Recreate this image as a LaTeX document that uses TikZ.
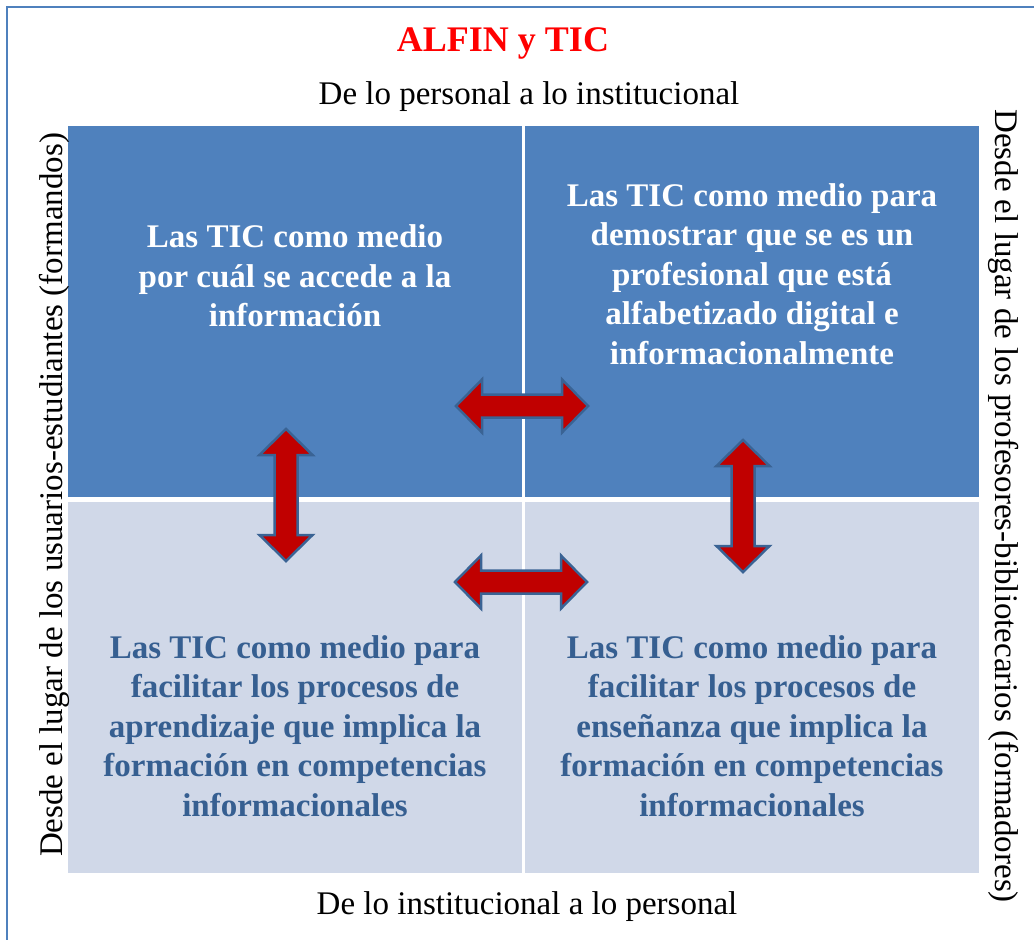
\documentclass[tikz,border=0pt]{standalone}
\usepackage{fontspec}
\setmainfont{Liberation Serif}
\usetikzlibrary{positioning}
\definecolor{quadblue}{HTML}{4F81BD}
\definecolor{quadpale}{HTML}{D0D8E8}
\definecolor{txtblue}{HTML}{365F91}
\definecolor{arrred}{HTML}{C00000}
\definecolor{arredge}{HTML}{3A6394}
\tikzset{
  quad/.style    = {minimum width=454pt, minimum height=371pt, inner sep=0pt},
  upper/.style   = {quad, fill=quadblue},
  lower/.style   = {quad, fill=quadpale},
  qtext/.style   = {align=center, inner sep=0pt,
                    font=\fontsize{33}{39.5}\selectfont\bfseries},
  side/.style    = {inner sep=0pt, font=\fontsize{33}{40}\selectfont},
  blockarr/.style= {fill=arrred, draw=arredge, line width=2.5pt, line join=miter},
  pics/dblarr/.style = {code={
    \draw[blockarr] (-66,0) -- (-40,-26.5) -- (-40,-11.5) -- (40,-11.5)
      -- (40,-26.5) -- (66,0) -- (40,26.5) -- (40,11.5) -- (-40,11.5)
      -- (-40,26.5) -- cycle;}},
}

\begin{document}
\begin{tikzpicture}[x=1pt, y=-1pt]
\useasboundingbox (0,0) rectangle (1034,940);

% --- frame ---
\draw[quadblue, line width=2pt] (7,940) -- (7,7) -- (1034,7);

% --- quadrants ---
\node[upper] (tl) at (295,311.5) {};
\node[upper] (tr) at (752,311.5) {};
\node[lower] (bl) at (295,687.5) {};
\node[lower] (br) at (752,687.5) {};

% --- headings ---
\node[text=red, font=\fontsize{36}{40}\selectfont\bfseries] (title) at (503,43) {ALFIN y TIC};
\node[side] (toplbl) at (529,97) {De lo personal a lo institucional};
\node[side] (botlbl) at (527,907) {De lo institucional a lo personal};
\node[side, rotate=90] (lside) at (54,495)
     {Desde el lugar de los usuarios-estudiantes (formandos)};
\node[side, rotate=-90] (rside) at (1004,506)
     {Desde el lugar de los profesores-bibliotecarios (formadores)};

% --- quadrant texts ---
\node[qtext, text=white] (tltext) at (295,276)
     {Las TIC como medio\\por cuál se accede a la\\información};
\node[qtext, text=white] (trtext) at (752,274)
     {Las TIC como medio para\\demostrar que se es un\\profesional que está\\alfabetizado digital e\\informacionalmente};
\node[qtext, text=txtblue] (bltext) at (295,726)
     {Las TIC como medio para\\facilitar los procesos de\\aprendizaje que implica la\\formación en competencias\\informacionales};
\node[qtext, text=txtblue] (brtext) at (752,726)
     {Las TIC como medio para\\facilitar los procesos de\\enseñanza que implica la\\formación en competencias\\informacionales};

% --- block arrows ---
\pic (arrtop) at (522,406) {dblarr};
\pic (arrbot) at (521,582) {dblarr};
\pic[rotate=90] (arrleft) at (286,495) {dblarr};
\pic[rotate=90] (arrright) at (743,506) {dblarr};
\end{tikzpicture}
\end{document}
